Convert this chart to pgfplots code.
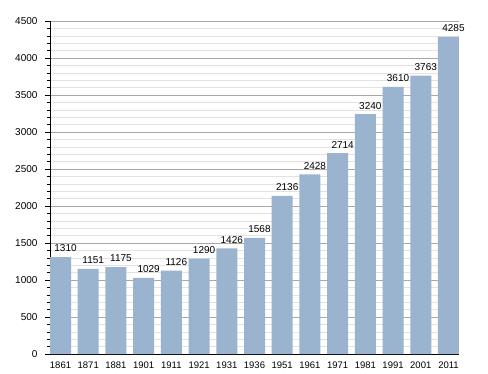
\documentclass[border=0pt]{standalone}
\usepackage{pgfplots}
\pgfplotsset{compat=1.18}
\usepackage{fontspec}
\setmainfont{Liberation Sans}
\definecolor{barc}{HTML}{9AB3CF}
\definecolor{majg}{HTML}{A8A8A8}
\definecolor{ming}{HTML}{E2E2E2}
\begin{document}
\begin{tikzpicture}
\useasboundingbox (-50pt,-19pt) rectangle (438pt,354pt);
\begin{axis}[
  at={(0,0)}, anchor=south west,
  scale only axis, width=409pt, height=333pt,
  xmin=-0.38, xmax=14.38, ymin=0, ymax=4500,
  axis x line*=bottom, axis y line*=left,
  axis line style={black, line width=0.8pt},
  xtick=data,
  xticklabels={1861,1871,1881,1901,1911,1921,1931,1936,1951,1961,1971,1981,1991,2001,2011},
  x tick style={draw=none},
  ytick={0,500,...,4500},
  minor ytick={0,100,...,4500},
  ymajorgrids, yminorgrids,
  major grid style={majg, line width=0.6pt},
  minor grid style={ming, line width=0.6pt},
  tick align=outside,
  major tick length=5pt, minor tick length=3pt,
  y tick style={black, line width=0.6pt},
  /pgf/number format/assume math mode=true,
  yticklabel style={font=\fontsize{10}{11}\selectfont, /pgf/number format/1000 sep={}, xshift=-4pt},
  xticklabel style={font=\fontsize{9.5}{11}\selectfont, /pgf/number format/1000 sep={}, yshift=1pt},
  axis on top=false,
  nodes near coords,
  nodes near coords style={font=\fontsize{10}{11}\selectfont, anchor=south, xshift=5pt, yshift=1.5pt, /pgf/number format/1000 sep={}, /pgf/number format/assume math mode=true},
  clip=false,
]
\addplot[ybar, bar width=21pt, fill=barc, draw=none] coordinates {
(0,1310) (1,1151) (2,1175) (3,1029) (4,1126) (5,1290) (6,1426) (7,1568)
(8,2136) (9,2428) (10,2714) (11,3240) (12,3610) (13,3763) (14,4285)};
\end{axis}
\end{tikzpicture}
\end{document}
